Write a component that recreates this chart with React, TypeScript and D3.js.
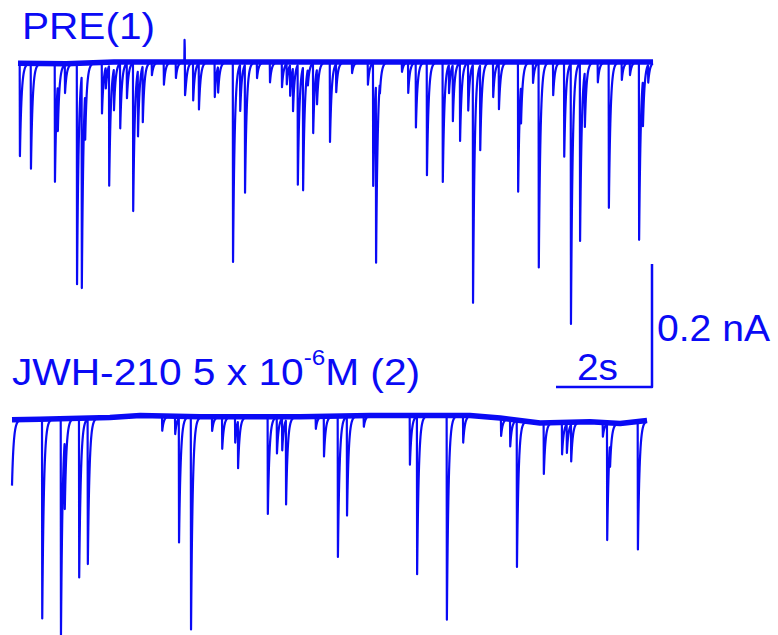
import React from 'react'
import * as d3 from 'd3'

// event onsets (s) and peak amplitudes (pA, inward negative)
const preTimes = [0.04, 0.27, 0.77, 0.83, 0.98, 1.23, 1.33, 1.40, 1.75, 1.83, 1.90, 2.00, 2.13, 2.27, 2.40, 2.50, 2.60, 2.79, 3.04, 3.29, 3.47, 3.48, 3.65, 3.77, 4.10, 4.17, 4.48, 4.63, 4.73, 4.98, 5.25, 5.50, 5.60, 5.67, 5.73, 5.83, 5.94, 6.04, 6.15, 6.23, 6.50, 6.63, 6.96, 7.29, 7.40, 7.46, 7.54, 8.00, 8.13, 8.29, 8.52, 8.85, 8.98, 9.06, 9.21, 9.38, 9.48, 9.63, 9.90, 10.02, 10.42, 10.48, 10.73, 10.85, 11.15, 11.38, 11.52, 11.71, 11.81, 12.08, 12.31, 12.58, 12.75, 12.94, 13.02, 13.13]
const preAmps = [-151, -171, -192, -75, -46, -359, -345, -75, -83, -34, -195, -67, -106, -57, -241, -107, -91, -21, -37, -26, 36, -67, -62, -75, -57, -42, -325, -75, -208, -26, -33, -41, -34, -50, -70, -195, -200, -26, -114, -57, -130, -46, -18, -37, -200, -290, -18, -16, -50, -106, -184, -195, -46, -91, -127, -78, -387, -138, -57, -75, -211, -62, -34, -333, -54, -154, -423, -289, -89, -33, -237, -29, -21, -289, -75, -29]
const preBaseT = [0, 1.0, 2.0, 6.0, 10.0, 13.23]
const preBaseV = [-2, -3, 0, 0, 0, 0]

const jwhTimes = [0.0, 0.63, 1.02, 1.10, 1.40, 1.58, 3.13, 3.40, 3.48, 3.73, 4.17, 4.38, 4.65, 4.71, 5.33, 5.52, 5.63, 5.71, 6.33, 6.50, 6.79, 6.98, 7.33, 8.29, 8.44, 9.06, 9.40, 10.19, 10.38, 10.52, 11.08, 11.46, 11.56, 11.65, 12.31, 12.40, 12.46, 13.04]
const jwhAmps = [-107, -324, -355, -111, -259, -236, -24, -29, -202, -346, -23, -52, -42, -76, -158, -59, -52, -137, -20, -65, -229, -161, -18, -80, -257, -332, -44, -29, -44, -238, -83, -52, -47, -60, -23, -189, -37, -208]
const jwhBaseT = [0, 0.58, 2.04, 2.67, 3.92, 6.0, 7.46, 9.54, 10.17, 11.0, 12.04, 12.67, 13.23]
const jwhBaseV = [-3, -2, 1, 4, 2, 2, 4, 4, 0, -8, -6, -9, -4]

const duration = 13.23
const tau = 0.035
const rise = 0.004
const blue = '#0a0af5'
const font = "'Liberation Sans', Arial, sans-serif"

function buildTrace(times: number[], amps: number[], bt: number[], bv: number[]) {
  const base = d3.scaleLinear().domain(bt).range(bv)
  const ts = d3.range(0, duration, 0.005).concat(times).sort((a, b) => a - b)
  return ts.map(t => {
    let v = base(t)
    times.forEach((e, i) => {
      const dt = t - e
      const k = amps[i] > 0 ? 0.01 : tau
      if (dt >= 0) v += amps[i] * Math.exp(-dt / k)
      else if (dt > -rise) v += amps[i] * (1 + dt / rise)
    })
    return [t, v] as [number, number]
  })
}

export default function App() {
  const pxPerSec = 48
  const pxPerPA = 123 / 200

  const xPre = d3.scaleLinear().domain([0, duration]).range([18, 18 + duration * pxPerSec])
  const xJwh = d3.scaleLinear().domain([0, duration]).range([12, 12 + duration * pxPerSec])
  const yPre = d3.scaleLinear().domain([0, -200]).range([62, 62 + 200 * pxPerPA])
  const yJwh = d3.scaleLinear().domain([0, -200]).range([418, 418 + 200 * pxPerPA])

  const pre = buildTrace(preTimes, preAmps, preBaseT, preBaseV)
  const jwh = buildTrace(jwhTimes, jwhAmps, jwhBaseT, jwhBaseV)

  const linePre = d3.line<[number, number]>().x(d => xPre(d[0])).y(d => yPre(d[1]))
  const lineJwh = d3.line<[number, number]>().x(d => xJwh(d[0])).y(d => yJwh(d[1]))

  const basePre = preBaseT.map((t, i) => [t, preBaseV[i]] as [number, number])
  const baseJwh = jwhBaseT.map((t, i) => [t, jwhBaseV[i]] as [number, number])

  // scale bar: 2 s by 0.2 nA
  const barX = 652
  const barY = 387
  const barW = xPre(2) - xPre(0)
  const barH = yPre(-200) - yPre(0)

  return (
    <svg width={778} height={635} style={{ position: 'absolute', left: 0, top: 0, background: '#fff' }}>
      <g fill="none" stroke={blue} strokeLinejoin="round">
        <path d={linePre(basePre) || ''} strokeWidth={5.5} />
        <path d={lineJwh(baseJwh) || ''} strokeWidth={5.5} />
        <path d={linePre(pre) || ''} strokeWidth={2.2} />
        <path d={lineJwh(jwh) || ''} strokeWidth={2.2} />
        <path d={`M${barX - barW},${barY}H${barX}V${barY - barH}`} strokeWidth={2.5} />
      </g>
      <g fill={blue} fontFamily={font}>
        <text x={22} y={39} fontSize={36} textLength={133} lengthAdjust="spacingAndGlyphs">PRE(1)</text>
        <text transform="translate(12,385) scale(1.1,1)" fontSize={37}>
          JWH-210 5 x 10<tspan fontSize={22} dy={-20}>-6</tspan><tspan dy={20}>M (2)</tspan>
        </text>
        <text x={577} y={380} fontSize={36} textLength={41} lengthAdjust="spacingAndGlyphs">2s</text>
        <text x={657} y={341} fontSize={36} textLength={113} lengthAdjust="spacingAndGlyphs">0.2 nA</text>
      </g>
    </svg>
  )
}
